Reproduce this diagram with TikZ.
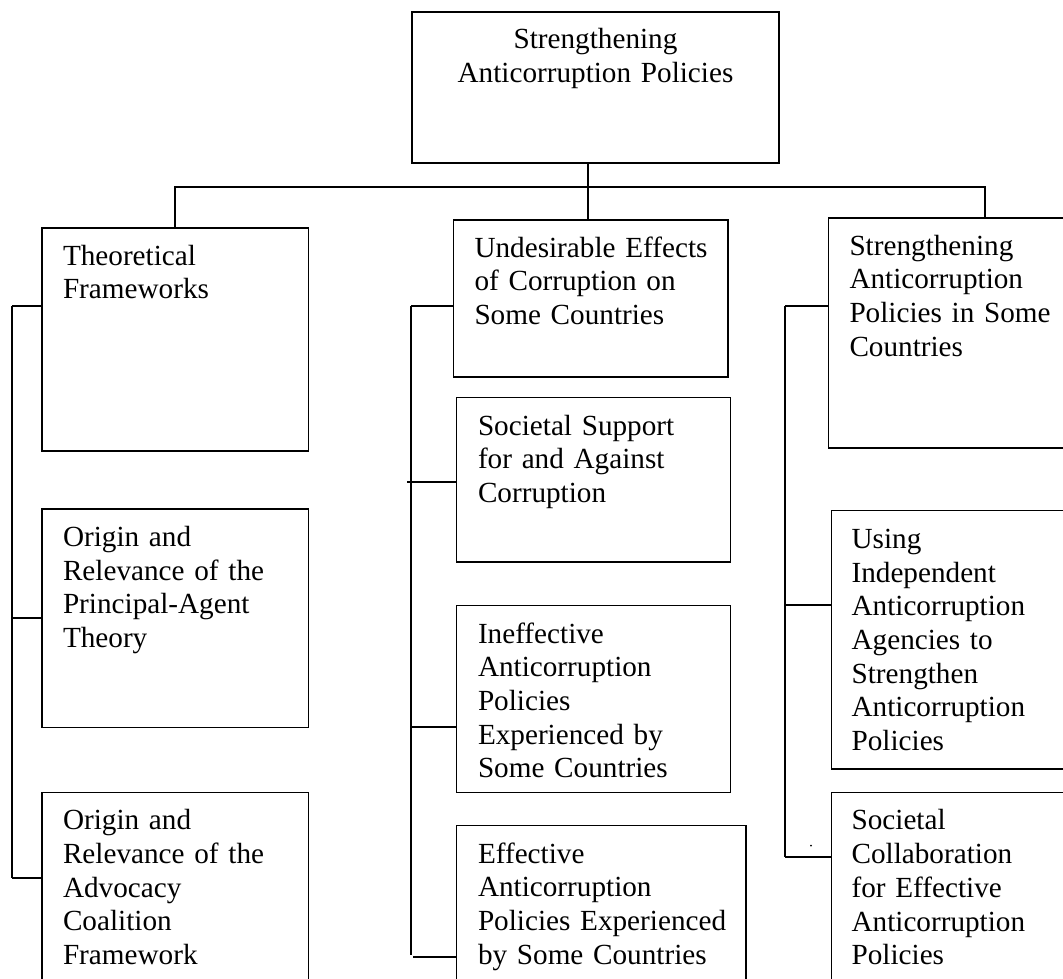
\documentclass[tikz,border=0pt]{standalone}
\usepackage{fontspec}
\setmainfont{Liberation Serif}
\begin{document}
\begin{tikzpicture}[x=1pt,y=1pt,
  box/.style={draw=black, line width=1.3pt, rectangle, inner sep=0pt, outer sep=0pt, anchor=north west},
  txt/.style={inner sep=0pt, outer sep=0pt, anchor=base west, text width=320pt, align=left,
    font=\fontsize{29.2}{33.7}\selectfont},
  ctxt/.style={inner sep=0pt, outer sep=0pt, anchor=base, text width=360pt, align=center,
    font=\fontsize{29.2}{34.5}\selectfont},
  conn/.style={draw=black, line width=1.8pt},
  thick conn/.style={draw=black, line width=2.3pt}]
\useasboundingbox (0,0) rectangle (1063,-978);
\clip (0,0) rectangle (1063,-978);
\fill[white] (0,0) rectangle (1063,-978);

% top
\node[box, minimum width=367, minimum height=151] (top) at (412,-12) {};
\node[ctxt] (topt) at ([yshift=-36]top.north) {Strengthening\\Anticorruption Policies};

% level 2 boxes
\node[box, minimum width=266.5, minimum height=223] (T1) at (42,-228) {};
\node[box, minimum width=266.5, minimum height=218.3] (T2) at (42,-509) {};
\node[box, minimum width=266.5, minimum height=220] (T3) at (42,-792.3) {};

\node[box, minimum width=274.5, minimum height=157] (M1) at (453.5,-220) {};
\node[box, minimum width=274, minimum height=164.3] (M2) at (456.6,-397.7) {};
\node[box, minimum width=274, minimum height=186.6] (M3) at (456.6,-605.7) {};
\node[box, minimum width=289.4, minimum height=190] (M4) at (456.6,-825.7) {};

\node[box, minimum width=245, minimum height=230] (R1) at (828.5,-218) {};
\node[box, minimum width=245, minimum height=258.3] (R2) at (831.6,-510.7) {};
\node[box, minimum width=245, minimum height=220] (R3) at (831.6,-792.3) {};

% texts
\node[txt] (T1t) at ([shift={(21,-37)}]T1.north west) {Theoretical\\Frameworks};
\node[txt] (T2t) at ([shift={(21,-37.5)}]T2.north west) {Origin and\\Relevance of the\\Principal-Agent\\Theory};
\node[txt] (T3t) at ([shift={(21,-37.5)}]T3.north west) {Origin and\\Relevance of the\\Advocacy\\Coalition\\Framework};

\node[txt] (M1t) at ([shift={(21,-37)}]M1.north west) {Undesirable Effects\\of Corruption on\\Some Countries};
\node[txt] (M2t) at ([shift={(21.4,-37.3)}]M2.north west) {Societal Support\\for and Against\\Corruption};
\node[txt] (M3t) at ([shift={(21.4,-37.3)}]M3.north west) {Ineffective\\Anticorruption\\Policies\\Experienced by\\Some Countries};
\node[txt] (M4t) at ([shift={(21.4,-37.3)}]M4.north west) {Effective\\Anticorruption\\Policies Experienced\\by Some Countries};

\node[txt] (R1t) at ([shift={(21,-37)}]R1.north west) {Strengthening\\Anticorruption\\Policies in Some\\Countries};
\node[txt] (R2t) at ([shift={(20,-37.6)}]R2.north west) {Using\\Independent\\Anticorruption\\Agencies to\\Strengthen\\Anticorruption\\Policies};
\node[txt] (R3t) at ([shift={(20,-37.6)}]R3.north west) {Societal\\Collaboration\\for Effective\\Anticorruption\\Policies};

% top connectors
\coordinate (hub) at (588,-187);
\coordinate (lx) at (175,-187);
\coordinate (rx) at (985,-187);
\draw[conn] (hub |- top.south) -- (hub);
\draw[conn] (lx |- T1.north) -- (lx) -- (rx) -- (rx |- R1.north);
\draw[conn] (hub) -- (hub |- M1.north);

% left spine
\coordinate (ls1) at (12,-305.7);
\coordinate (ls2) at (12,-617.7);
\coordinate (ls3) at (12,-877.7);
\draw[conn] (ls1) -- (ls3);
\draw[conn] (ls1) -- (ls1 -| T1.west);
\draw[conn] (ls2) -- (ls2 -| T2.west);
\draw[conn] (ls3) -- (ls3 -| T3.west);

% middle spine
\coordinate (ms1) at (411,-305.7);
\coordinate (ms2) at (407,-481.7);
\coordinate (ms3) at (411,-727.3);
\coordinate (ms4) at (411,-955);
\coordinate (ms4b) at (413,-957);
\draw[conn] (ms1) -- (ms4);
\draw[conn] (ms1) -- (ms1 -| M1.west);
\draw[conn] (ms2) -- (ms2 -| M2.west);
\draw[conn] (ms3) -- (ms3 -| M3.west);
\draw[conn] (ms4b) -- (ms4b -| M4.west);

% right spine
\coordinate (rs1) at (785,-305.7);
\coordinate (rs2) at (785,-605);
\coordinate (rs3) at (785,-856.7);
\draw[thick conn] (rs1) -- (rs3);
\draw[conn] (rs1) -- (rs1 -| R1.west);
\draw[conn] (rs2) -- (rs2 -| R2.west);
\draw[conn] (rs3) -- (rs3 -| R3.west);
\fill (811,-845.7) circle (1);
\end{tikzpicture}
\end{document}
